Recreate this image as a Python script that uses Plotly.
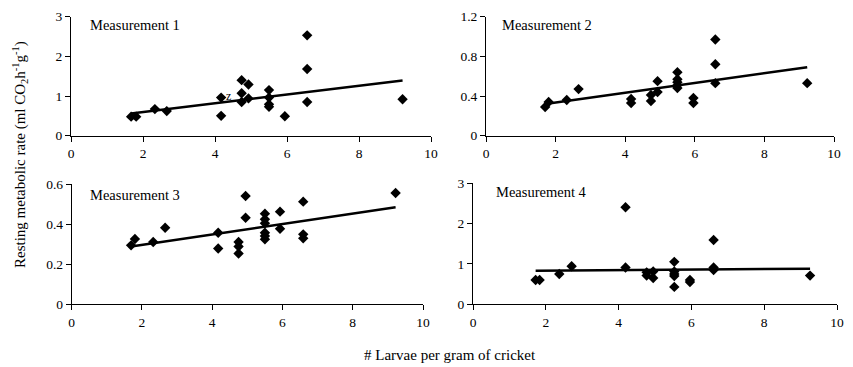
import plotly.graph_objects as go

# ---- data ----
m1_x = [1.67, 1.81, 2.33, 2.66, 4.17, 4.17, 4.74, 4.74, 4.74, 4.93, 4.93, 5.5, 5.5, 5.5, 5.5, 5.94, 6.56, 6.56, 6.56, 9.21]
m1_y = [0.48, 0.48, 0.67, 0.62, 0.96, 0.50, 1.40, 1.07, 0.85, 1.29, 0.94, 1.15, 0.96, 0.79, 0.73, 0.49, 2.53, 1.68, 0.85, 0.92]

m2_x = [1.70, 1.80, 2.32, 2.66, 4.17, 4.17, 4.74, 4.74, 4.93, 4.93, 5.5, 5.5, 5.5, 5.5, 5.5, 5.96, 5.96, 6.59, 6.59, 6.59, 9.23]
m2_y = [0.29, 0.34, 0.36, 0.47, 0.37, 0.33, 0.41, 0.35, 0.55, 0.44, 0.64, 0.57, 0.54, 0.51, 0.48, 0.38, 0.33, 0.97, 0.72, 0.53, 0.53]

m3_x = [1.69, 1.80, 2.32, 2.66, 4.17, 4.17, 4.75, 4.75, 4.75, 4.95, 4.95, 5.5, 5.5, 5.5, 5.5, 5.5, 5.5, 5.93, 5.93, 6.59, 6.59, 6.59, 9.22]
m3_y = [0.294, 0.326, 0.311, 0.382, 0.357, 0.278, 0.311, 0.288, 0.253, 0.540, 0.432, 0.452, 0.424, 0.404, 0.357, 0.341, 0.324, 0.462, 0.377, 0.512, 0.349, 0.329, 0.555]

m4_x = [1.72, 1.83, 2.37, 2.71, 4.19, 4.19, 4.77, 4.77, 4.95, 4.95, 5.53, 5.53, 5.53, 5.53, 5.53, 5.96, 5.96, 6.61, 6.61, 6.61, 9.26]
m4_y = [0.60, 0.60, 0.75, 0.94, 2.40, 0.91, 0.71, 0.79, 0.81, 0.65, 1.05, 0.81, 0.75, 0.70, 0.43, 0.60, 0.55, 1.59, 0.91, 0.85, 0.71]

# trend lines (start/end x and y per panel)
trend_x = [[1.67, 9.21], [1.70, 9.23], [1.69, 9.22], [1.72, 9.26]]
trend_y = [[0.56, 1.39], [0.32, 0.69], [0.288, 0.484], [0.83, 0.88]]

titles = ["Measurement 1", "Measurement 2", "Measurement 3", "Measurement 4"]
y_ranges = [[0, 3], [0, 1.2], [0, 0.6], [0, 3]]
y_ticks = [[0, 1, 2, 3], [0, 0.4, 0.8, 1.2], [0, 0.2, 0.4, 0.6], [0, 1, 2, 3]]
y_ticktext = [["0", "1", "2", "3"], ["0", "0.4", "0.8", "1.2"], ["0", "0.2", "0.4", "0.6"], ["0", "1", "2", "3"]]
x_ticks = [0, 2, 4, 6, 8, 10]

# the page places the figure 8 px from the window's top-left corner
OFF = 8
W, H = 853 - OFF, 367 - OFF
# panel pixel boxes in window coordinates: (left, right, top, bottom)
boxes = [(71, 431, 16.7, 135.7), (486, 834, 16.7, 135.7),
         (71.7, 423, 184, 304.3), (473, 837, 183, 304.3)]
label_pos = [(88, 25), (500, 25), (88, 195), (494, 192)]

FONT = "Liberation Serif"


def fx(px):
    return (px - OFF) / W


def fy(py):
    return 1 - (py - OFF) / H


fig = go.Figure()
xs = [m1_x, m2_x, m3_x, m4_x]
ys = [m1_y, m2_y, m3_y, m4_y]

for i in range(4):
    ax = "" if i == 0 else str(i + 1)
    fig.add_trace(go.Scatter(x=xs[i], y=ys[i], mode="markers",
                             marker=dict(symbol="diamond", size=8, color="black"),
                             xaxis="x" + ax, yaxis="y" + ax, showlegend=False, cliponaxis=False))
    fig.add_trace(go.Scatter(x=trend_x[i], y=trend_y[i], mode="lines",
                             line=dict(color="black", width=2.5),
                             xaxis="x" + ax, yaxis="y" + ax, showlegend=False))
    l, r, t, b = boxes[i]
    fig.layout["xaxis" + ax] = dict(
        domain=[fx(l), fx(r)], anchor="y" + ax, range=[0, 10], automargin=False,
        tickvals=x_ticks, ticks="outside", ticklen=5, tickcolor="black",
        showline=True, linecolor="black", linewidth=1, showgrid=False, zeroline=False,
        tickfont=dict(family=FONT, size=13.5, color="black"))
    fig.layout["yaxis" + ax] = dict(
        domain=[fy(b), fy(t)], anchor="x" + ax, range=y_ranges[i], automargin=False,
        tickvals=y_ticks[i], ticktext=y_ticktext[i], ticks="outside", ticklen=5,
        tickcolor="black", showline=True, linecolor="black", linewidth=1,
        showgrid=False, zeroline=False,
        tickfont=dict(family=FONT, size=13.5, color="black"))
    lx, ly = label_pos[i]
    fig.add_annotation(text=titles[i], x=fx(lx), y=fy(ly), xref="paper", yref="paper",
                       xanchor="left", yanchor="middle", showarrow=False,
                       font=dict(family=FONT, size=14.5, color="black"))

fig.add_annotation(text="z", x=4.38, y=1.01, xref="x", yref="y", xanchor="center",
                   yanchor="middle", showarrow=False, font=dict(family=FONT, size=12, color="black"))

fig.add_annotation(text="Resting metabolic rate (ml CO<sub>2</sub>h<sup>-1</sup>g<sup>-1</sup>)",
                   x=fx(20), y=fy(155), xref="paper", yref="paper", textangle=-90,
                   xanchor="center", yanchor="middle", showarrow=False,
                   font=dict(family=FONT, size=15, color="black"))
fig.add_annotation(text="# Larvae per gram of cricket", x=fx(450), y=fy(355),
                   xref="paper", yref="paper", xanchor="center", yanchor="middle",
                   showarrow=False, font=dict(family=FONT, size=15, color="black"))

fig.update_layout(width=W, height=H, margin=dict(l=0, r=0, t=0, b=0, autoexpand=False),
                  font=dict(family=FONT, color="black"),
                  paper_bgcolor="white", plot_bgcolor="white")
fig.write_html("out.html")
